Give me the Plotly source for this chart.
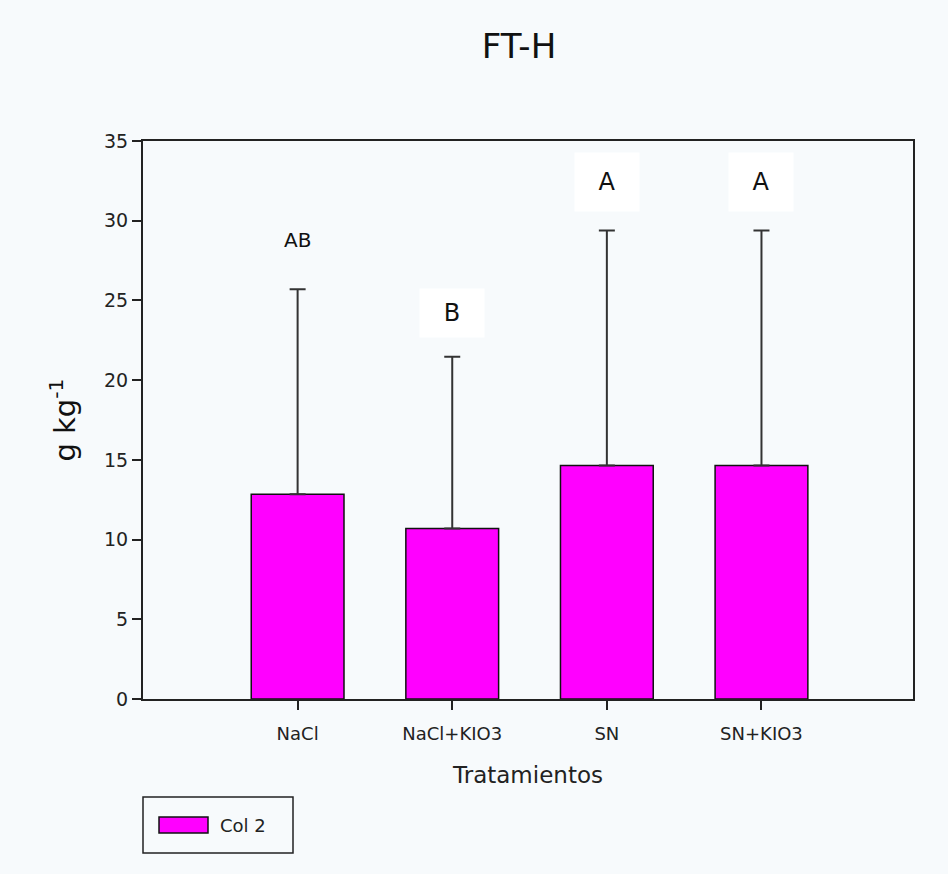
import plotly.graph_objects as go

# Treatment means and error (upper SD) in g kg-1
treatments = ["NaCl", "NaCl+KIO3", "SN", "SN+KIO3"]
means = [12.85, 10.7, 14.65, 14.65]
errors = [12.85, 10.77, 14.73, 14.73]
letters = ["AB", "B", "A", "A"]
letter_y = [28.8, 24.2, 32.4, 32.4]
y_ticks = [0, 5, 10, 15, 20, 25, 30, 35]

BG = "#f7fafc"
FONT = "DejaVu Sans, Arial, sans-serif"

W, H = 948, 874
L, R, T, B = 143, 35, 141, 175
pw, ph = W - L - R, H - T - B


def px(x):
    return (x - L) / pw


def py(y):
    return (H - B - y) / ph


fig = go.Figure()
fig.add_trace(go.Bar(
    x=treatments,
    y=means,
    width=0.6,
    marker=dict(color="#ff00ff", line=dict(color="#111111", width=1.5)),
    error_y=dict(type="data", symmetric=False, array=errors,
                 arrayminus=[0] * len(errors),
                 color="#333333", thickness=2, width=8),
    name="Col 2",
    showlegend=False,
))

# significance letters on white patches
for t, lab, yy in zip(treatments, letters, letter_y):
    if lab == "AB":
        fig.add_annotation(x=t, y=yy, text=lab, showarrow=False,
                           font=dict(family=FONT, size=20, color="#111111"))
    else:
        fig.add_annotation(x=t, y=yy, text=lab, showarrow=False,
                           font=dict(family=FONT, size=24, color="#111111"),
                           bgcolor="#ffffff", width=62,
                           height=56 if lab == "A" else 46)

# legend box with swatch
fig.add_shape(type="rect", xref="paper", yref="paper",
              x0=px(143), x1=px(293), y0=py(853), y1=py(797),
              line=dict(color="#222222", width=1.5), fillcolor=BG)
fig.add_shape(type="rect", xref="paper", yref="paper",
              x0=px(159), x1=px(208), y0=py(833), y1=py(817),
              line=dict(color="#111111", width=1.5), fillcolor="#ff00ff")
fig.add_annotation(xref="paper", yref="paper", x=px(218), y=py(825),
                   xanchor="left", yanchor="middle", showarrow=False,
                   text="Col 2", font=dict(family=FONT, size=18, color="#222222"))

fig.update_layout(
    width=W, height=H,
    margin=dict(l=L, r=R, t=T, b=B),
    paper_bgcolor=BG, plot_bgcolor=BG,
    font=dict(family=FONT, color="#222222"),
    title=dict(text="FT-H", x=519 / W, xanchor="center",
               y=1 - 46 / H, yanchor="middle",
               font=dict(family=FONT, size=34, color="#111111")),
    bargap=0.4,
)
fig.update_xaxes(
    range=[-1, 3.98], showline=True, mirror=True, linecolor="#222222", linewidth=2,
    ticks="outside", ticklen=9, tickwidth=1.5, tickcolor="#222222",
    ticklabelstandoff=8,
    tickfont=dict(family=FONT, size=18, color="#222222"),
    title=dict(text="Tratamientos", font=dict(family=FONT, size=23, color="#222222"),
               standoff=24),
    showgrid=False, zeroline=False,
)
fig.update_yaxes(
    range=[0, 35], tickvals=y_ticks, showline=True, mirror=True,
    linecolor="#222222", linewidth=2,
    ticks="outside", ticklen=9, tickwidth=1.5, tickcolor="#222222",
    tickfont=dict(family=FONT, size=19, color="#222222"),
    title=dict(text="g kg<sup>-1</sup>", font=dict(family=FONT, size=29, color="#111111"),
               standoff=20),
    showgrid=False, zeroline=False,
)

fig.write_html("out.html")
